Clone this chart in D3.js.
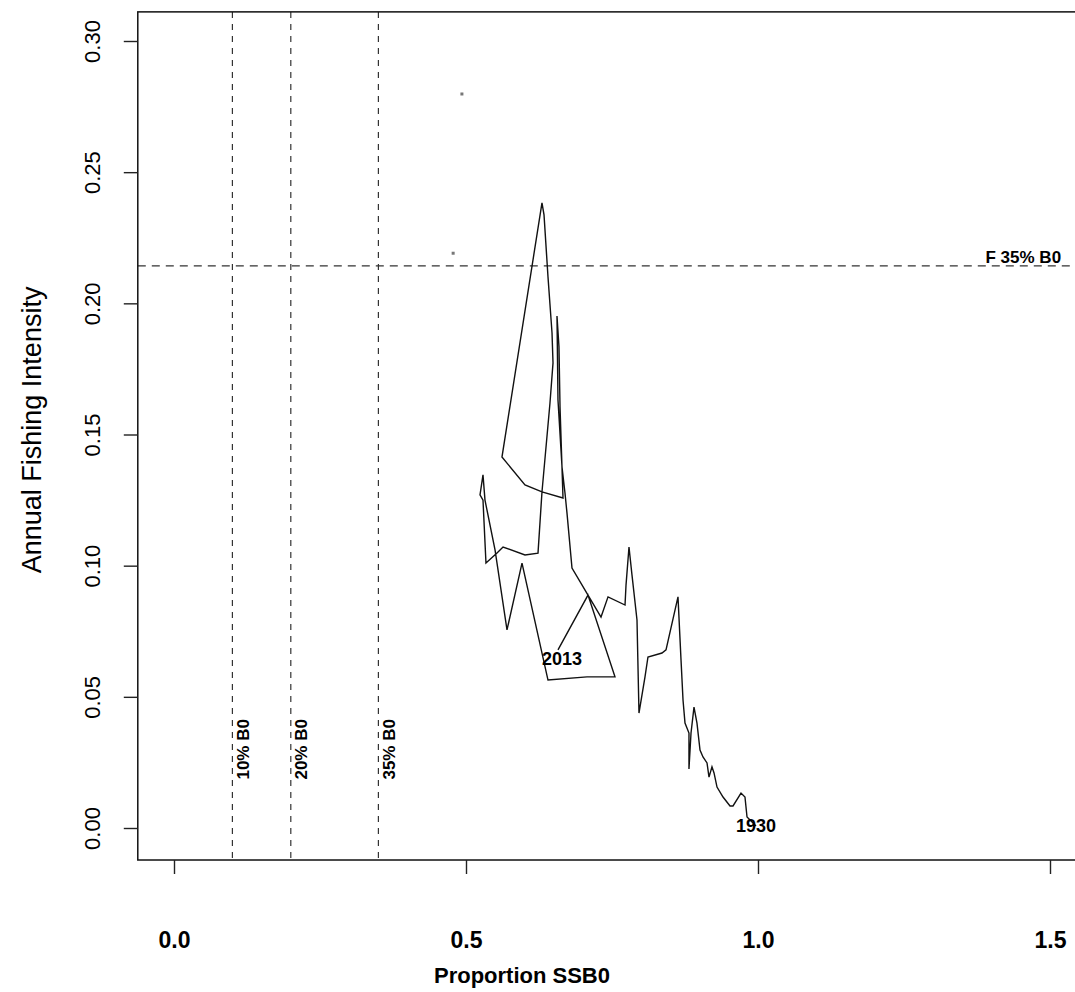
<!DOCTYPE html>
<html>
<head>
<meta charset="utf-8">
<script src="https://cdn.jsdelivr.net/npm/d3@7"></script>
<style>
  body { margin: 0; background: #fff; }
  svg { display: block; font-family: "Liberation Sans", Arial, sans-serif; }
  .axis path.domain { display: none; }
  .axis line { stroke: #222; stroke-width: 1.4; }
</style>
</head>
<body>
<div id="chart"></div>
<script>
// Trajectory 1930 -> 2013
const ssb = [
  0.9966, 0.9812, 0.9777, 0.9709, 0.9572, 0.9521, 0.9401, 0.9298, 0.9247, 0.9212,
  0.9161, 0.9127, 0.9058, 0.9007, 0.8955, 0.8904, 0.8853, 0.8818, 0.8818, 0.8750,
  0.8716, 0.8682, 0.8630, 0.8425, 0.8356, 0.8116, 0.8065, 0.7962, 0.7928, 0.7842,
  0.7791, 0.7740, 0.7723, 0.7432, 0.7312, 0.7089, 0.6815, 0.6729, 0.6695, 0.6644,
  0.6575, 0.6558, 0.6592, 0.6610, 0.6661, 0.6301, 0.6010, 0.5616, 0.6301, 0.6336,
  0.6404, 0.6473, 0.6490, 0.6438, 0.6301, 0.6233, 0.6010, 0.5634, 0.5531, 0.5342,
  0.5291, 0.5240, 0.5291, 0.5325, 0.5497, 0.5702, 0.5959, 0.6404, 0.7072, 0.7551,
  0.7089, 0.6575
];
const fint = [
  0.0008, 0.0042, 0.0118, 0.0133, 0.0084, 0.0084, 0.0118, 0.0156, 0.0210, 0.0233,
  0.0194, 0.0248, 0.0271, 0.0297, 0.0400, 0.0461, 0.0362, 0.0225, 0.0362, 0.0400,
  0.0488, 0.0640, 0.0881, 0.0679, 0.0667, 0.0652, 0.0576, 0.0438, 0.0793, 0.0965,
  0.1071, 0.0926, 0.0850, 0.0881, 0.0804, 0.0888, 0.0991, 0.1201, 0.1277, 0.1376,
  0.1632, 0.1952, 0.1834, 0.1605, 0.1258, 0.1281, 0.1308, 0.1414, 0.2383, 0.2337,
  0.2101, 0.1887, 0.1773, 0.1620, 0.1281, 0.1048, 0.1041, 0.1071, 0.1048, 0.1010,
  0.1250, 0.1270, 0.1346, 0.1250, 0.1060, 0.0755, 0.1010, 0.0564, 0.0576, 0.0576,
  0.0888, 0.0679
];
const yearLabels = ["1930", "2013"];

// reference points
const refB0 = [0.10, 0.20, 0.35];
const refB0Labels = ["10% B0", "20% B0", "35% B0"];
const fRef = 0.2143;
const fRefLabel = "F 35% B0";

// two stray points
const strayX = [0.493, 0.478];
const strayY = [0.2798, 0.2191];

const xTicks = [0, 0.5, 1.0, 1.5];
const yTicks = [0, 0.05, 0.10, 0.15, 0.20, 0.25, 0.30];

const width = 1075, height = 992;

const svg = d3.select("#chart").append("svg")
  .attr("width", width)
  .attr("height", height);

const x = d3.scaleLinear().domain([0, 1.5]).range([174, 1050]);
const y = d3.scaleLinear().domain([0, 0.30]).range([828, 41]);

// plot region (R style padding)
const pLeft = x(-0.062), pRight = x(1.562);
const pTop = y(0.3111), pBottom = y(-0.0122);

// reference lines
svg.append("g")
  .selectAll("line")
  .data(refB0)
  .join("line")
  .attr("x1", d => x(d)).attr("x2", d => x(d))
  .attr("y1", pTop).attr("y2", pBottom)
  .attr("stroke", "#333").attr("stroke-width", 1.2)
  .attr("stroke-dasharray", "6,6");

svg.append("line")
  .attr("x1", pLeft).attr("x2", pRight)
  .attr("y1", y(fRef)).attr("y2", y(fRef))
  .attr("stroke", "#333").attr("stroke-width", 1.2)
  .attr("stroke-dasharray", "8,6");

// labels on reference lines
svg.append("g")
  .selectAll("text")
  .data(refB0)
  .join("text")
  .attr("transform", d => `translate(${x(d) + 11},${y(0.0300)}) rotate(-90)`)
  .attr("text-anchor", "middle")
  .attr("dominant-baseline", "central")
  .style("font-size", "17px")
  .style("font-weight", "bold")
  .text((d, i) => refB0Labels[i]);

svg.append("text")
  .attr("x", x(1.519))
  .attr("y", y(fRef) - 3)
  .attr("text-anchor", "end")
  .style("font-size", "17px")
  .style("font-weight", "bold")
  .text(fRefLabel);

// trajectory
const pts = ssb.map((d, i) => [d, fint[i]]);
svg.append("path")
  .datum(pts)
  .attr("fill", "none")
  .attr("stroke", "#111")
  .attr("stroke-width", 1.4)
  .attr("d", d3.line().x(d => x(d[0])).y(d => y(d[1])));

svg.append("g")
  .selectAll("rect")
  .data(strayX)
  .join("rect")
  .attr("x", d => x(d) - 1.5)
  .attr("y", (d, i) => y(strayY[i]) - 1.5)
  .attr("width", 3).attr("height", 3)
  .attr("fill", "#777");

// first and last year
const ends = [0, pts.length - 1];
svg.append("g")
  .selectAll("text")
  .data(ends)
  .join("text")
  .attr("x", d => x(pts[d][0]) + (d === 0 ? 0 : 4))
  .attr("y", d => y(pts[d][1]) + (d === 0 ? 0 : 9))
  .attr("text-anchor", "middle")
  .attr("dominant-baseline", "central")
  .style("font-size", "18px")
  .style("font-weight", "bold")
  .text((d, i) => yearLabels[i]);

// box
svg.append("rect")
  .attr("x", pLeft).attr("y", pTop)
  .attr("width", pRight - pLeft).attr("height", pBottom - pTop)
  .attr("fill", "none")
  .attr("stroke", "#111").attr("stroke-width", 1.5);

// axes
const xAxis = svg.append("g")
  .attr("class", "axis")
  .attr("transform", `translate(0,${pBottom})`)
  .call(d3.axisBottom(x).tickValues(xTicks).tickSize(14).tickFormat(d3.format(".1f")));
xAxis.selectAll("text")
  .attr("y", 80)
  .attr("dy", "0.35em")
  .style("font-size", "23px")
  .style("font-weight", "bold")
  .attr("fill", "#000");

const yAxis = svg.append("g")
  .attr("class", "axis")
  .attr("transform", `translate(${pLeft},0)`)
  .call(d3.axisLeft(y).tickValues(yTicks).tickSize(14).tickFormat(d3.format(".2f")));
yAxis.selectAll("text")
  .attr("x", null).attr("dy", null)
  .attr("transform", "translate(-45,0) rotate(-90)")
  .attr("text-anchor", "middle")
  .attr("dominant-baseline", "central")
  .style("font-size", "22px")
  .attr("fill", "#000");

// axis titles
svg.append("text")
  .attr("x", 522)
  .attr("y", 975)
  .attr("text-anchor", "middle")
  .attr("dominant-baseline", "central")
  .style("font-size", "22px")
  .style("font-weight", "bold")
  .text("Proportion SSB0");

svg.append("text")
  .attr("transform", `translate(32,${(pTop + pBottom) / 2 - 6}) rotate(-90)`)
  .attr("text-anchor", "middle")
  .attr("dominant-baseline", "central")
  .style("font-size", "27px")
  .text("Annual Fishing Intensity");
</script>
</body>
</html>
